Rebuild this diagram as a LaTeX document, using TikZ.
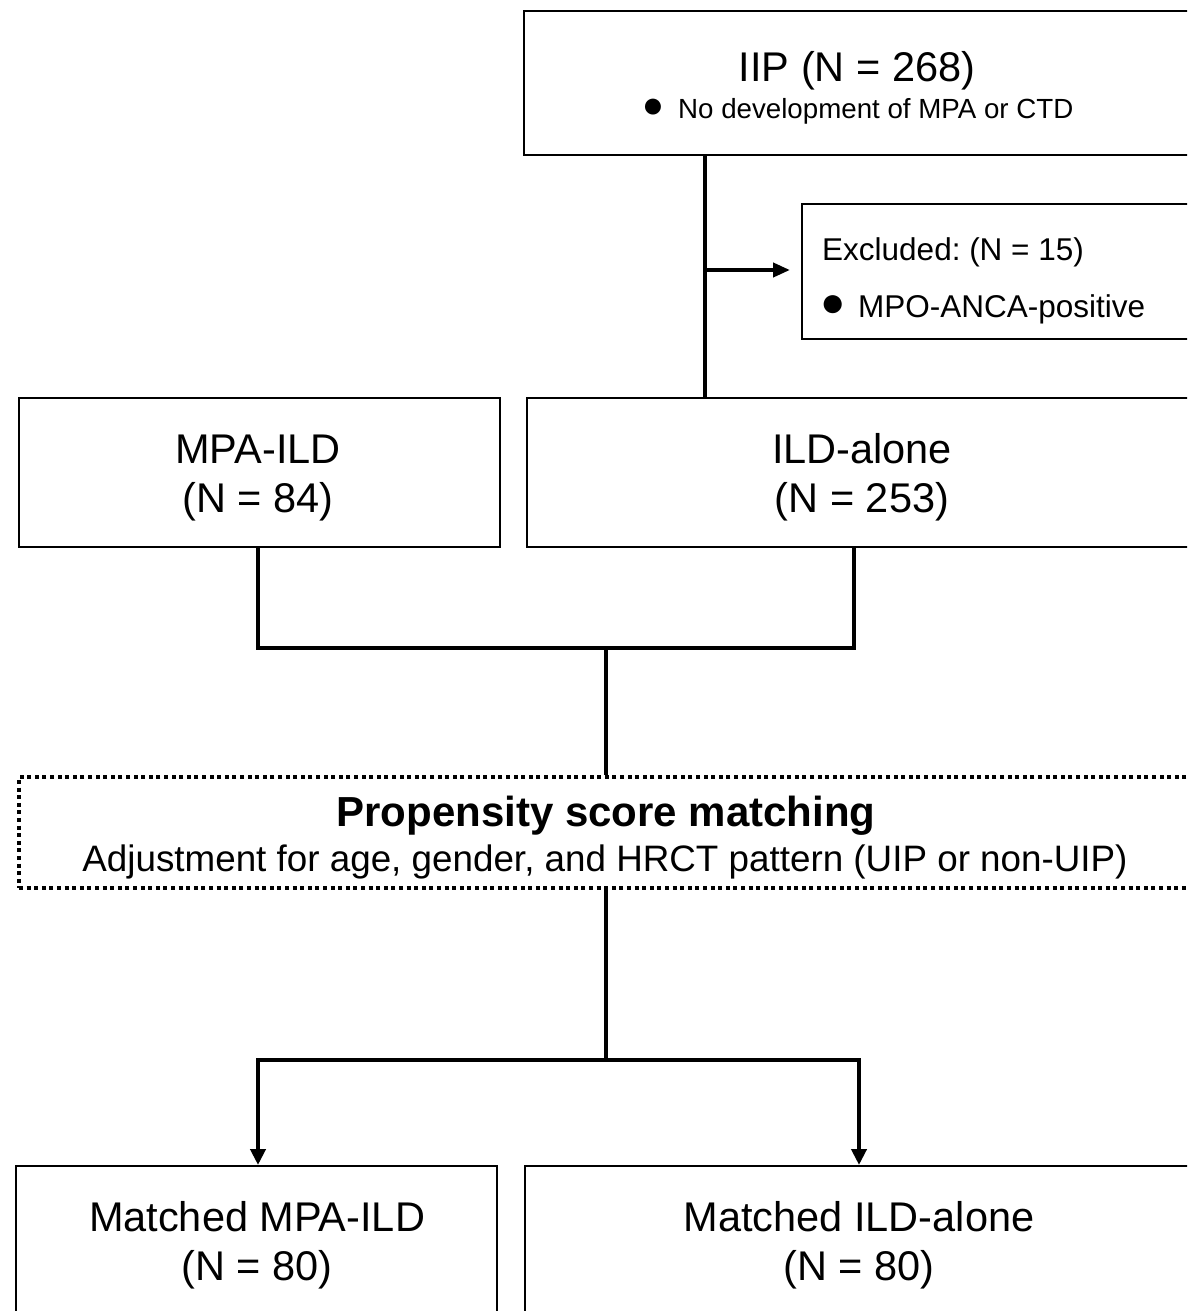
\documentclass[tikz,border=0pt]{standalone}
\usepackage{fontspec}
\setmainfont{Liberation Sans}
\usetikzlibrary{arrows.meta}
\frenchspacing
\begin{document}
\begin{tikzpicture}[x=1pt,y=-1pt,
  box/.style={draw=black, line width=1.8pt, inner sep=0pt, anchor=north west},
  dotbox/.style={draw=black, line width=4pt, dash pattern=on 4pt off 3.6pt, inner sep=0pt, anchor=north west},
  conn/.style={line width=4.5pt},
  arr/.style={conn, -{Triangle[length=16pt,width=15pt]}},
  txt/.style={inner sep=0pt, anchor=base, font=\fontsize{41.5}{49}\selectfont},
  bul/.style={inner sep=0pt, anchor=center},
]
\useasboundingbox (0,0) rectangle (1187,1311);
\clip (0,0) rectangle (1187,1311);

% boxes
\node[box, minimum width=670pt, minimum height=144pt] (iip) at (523,10) {};
\node[box, minimum width=400pt, minimum height=135pt] (excl) at (801,203) {};
\node[box, minimum width=481pt, minimum height=149pt] (mpa) at (18,397) {};
\node[box, minimum width=672pt, minimum height=149pt] (ild) at (526,397) {};
\node[dotbox, minimum width=1178pt, minimum height=111pt] (psm) at (17,775) {};
\node[box, minimum width=481pt, minimum height=160pt] (mm) at (15,1165) {};
\node[box, minimum width=670pt, minimum height=160pt] (mi) at (524,1165) {};

% texts
\node[txt] (t1) at (857,82) {IIP (N = 268)};
\node[bul, font=\fontsize{37}{40}\selectfont] (b1t) at (653,108) {●};
\node[txt, anchor=base west, font=\fontsize{27.7}{33}\selectfont] (t2) at (678,118) {No development of MPA or CTD};

\node[txt, anchor=base west, font=\fontsize{31.5}{38}\selectfont] (t3) at (822,260) {Excluded: (N = 15)};
\node[bul, font=\fontsize{42}{46}\selectfont] (b2t) at (833,306) {●};
\node[txt, anchor=base west, font=\fontsize{31.5}{38}\selectfont] (t4) at (858,317) {MPO-ANCA-positive};

\node[txt] (t5) at (258,463) {MPA-ILD};
\node[txt] (t6) at (258,512) {(N = 84)};
\node[txt] (t7) at (862,463) {ILD-alone};
\node[txt] (t8) at (862,512) {(N = 253)};

\node[txt, font=\bfseries\fontsize{42}{50}\selectfont] (t9) at (606,826) {Propensity score matching};
\node[txt, font=\fontsize{36.8}{44}\selectfont] (t10) at (605,871) {Adjustment for age, gender, and HRCT pattern (UIP or non-UIP)};

\node[txt] (t11) at (257,1231) {Matched MPA-ILD};
\node[txt] (t12) at (257,1280) {(N = 80)};
\node[txt] (t13) at (859,1231) {Matched ILD-alone};
\node[txt] (t14) at (859,1280) {(N = 80)};

% connectors
\coordinate (j1) at (705,270);
\draw[conn] (iip.south -| j1) -- (ild.north -| j1);
\draw[arr, line width=4pt, -{Triangle[length=17pt,width=14pt]}, shorten >=11pt] (j1) -- (excl.west |- j1);

\coordinate (a1) at (258,648);
\coordinate (a2) at (854,648);
\coordinate (m1) at (606,648);
\draw[conn] (mpa.south -| a1) -- (a1) -- (a2) -- (ild.south -| a2);
\draw[conn] (m1) -- (psm.north -| m1);

\coordinate (m2) at (606,1060);
\coordinate (c1) at (258,1060);
\coordinate (c2) at (859,1060);
\draw[conn] (psm.south -| m2) -- (m2);
\draw[arr] (m2) -- (c1) -- (mm.north -| c1);
\draw[arr] (m2) -- (c2) -- (mi.north -| c2);
\end{tikzpicture}
\end{document}
